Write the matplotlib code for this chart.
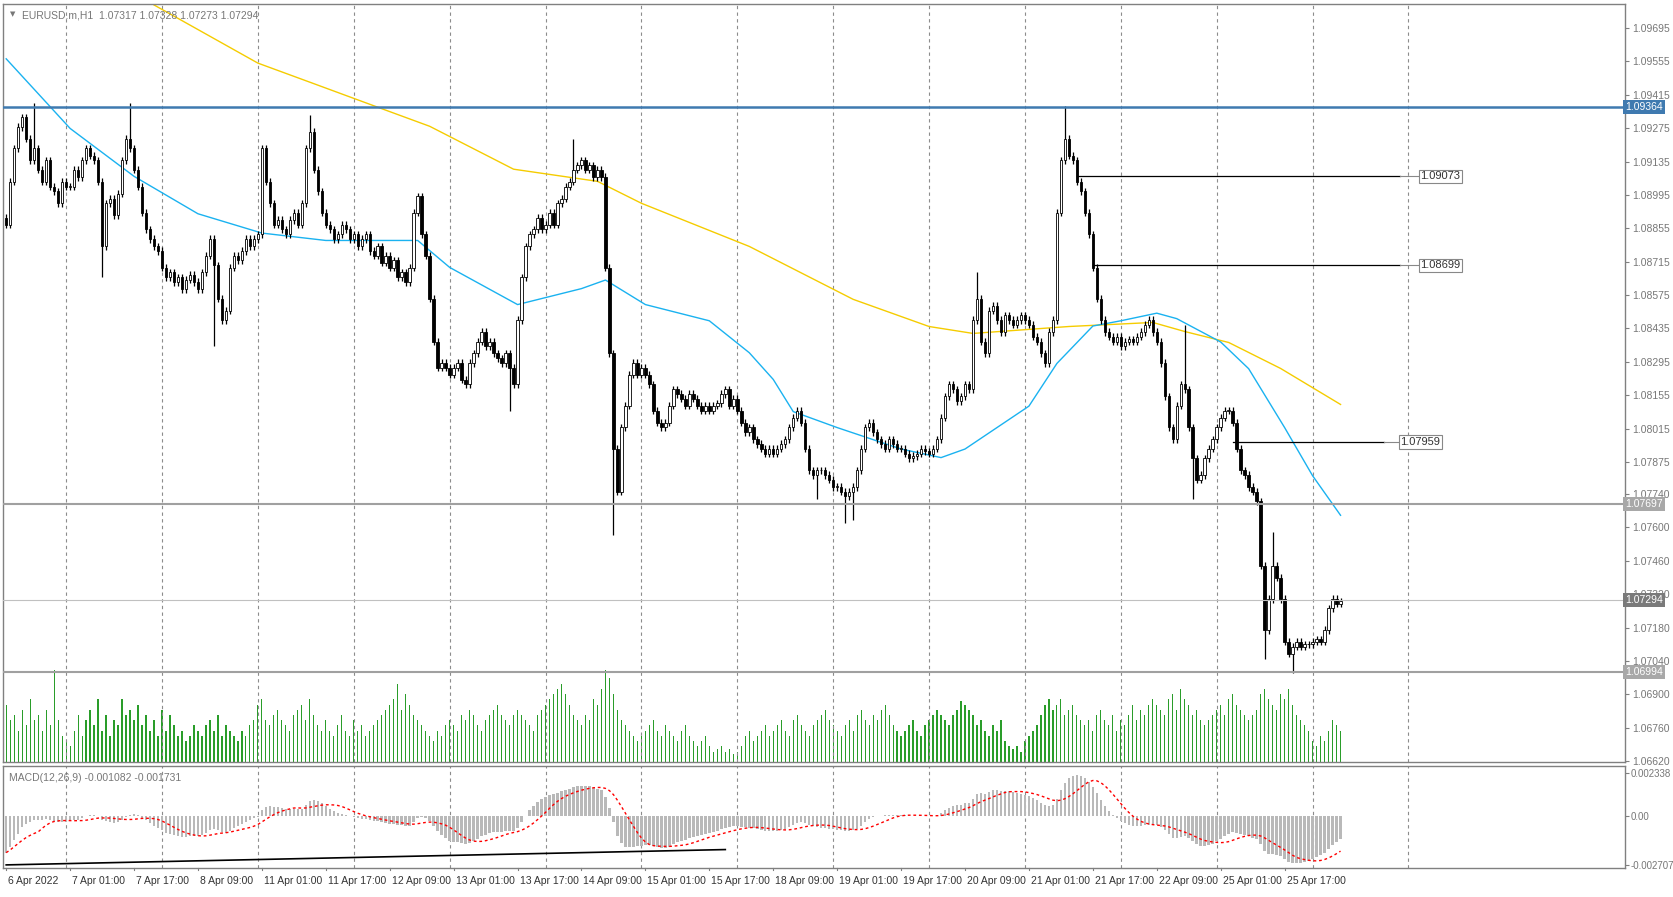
import numpy as np
import pandas as pd
import matplotlib
matplotlib.use("Agg")
import matplotlib.pyplot as plt

# ---------------- data (closes in pips above 1.07000) ----------------
closes_pips = (
    [187,205,219,228,232,223,214,219,210,205,214,203,201,196,205,203] +
    [203,210,207,214,219,216,214,205,178,196,198,191,200,214,223,219] +
    [210,203,192,185,181,178,176,169,165,167,163,165,160,164,166,163] +
    [160,167,174,181,170,156,147,151,169,174,172,176,181,178,181,183] +
    [219,205,196,187,189,185,183,189,192,187,196,219,226,210,201,192] +
    [187,185,181,183,187,185,181,183,178,181,183,176,174,178,171,174] +
    [169,172,165,167,163,169,192,199,183,174,156,138,127,129,127,124] +
    [127,129,122,120,129,133,138,142,136,138,133,131,129,133,127,120] +
    [147,165,178,183,185,190,185,187,192,187,196,198,203,205,210,212] +
    [214,210,212,207,210,207,169,133,93,75,102,111,124,129,124,127] +
    [124,120,109,104,102,104,111,118,116,114,111,116,114,111,109,111] +
    [109,111,112,116,118,111,114,109,104,100,102,97,95,93,91,93] +
    [91,93,95,97,102,106,109,104,93,84,82,84,84,82,80,77] +
    [77,75,73,75,77,84,93,102,104,100,97,95,93,97,95,93] +
    [93,91,89,90,91,93,92,91,93,97,106,115,120,118,113,115] +
    [120,118,147,156,138,133,151,153,147,142,149,147,145,147,149,147] +
    [145,140,138,133,129,142,147,192,214,223,216,214,205,201,192,183] +
    [169,156,147,142,140,138,140,136,138,139,138,140,142,145,147,142] +
    [138,129,115,102,97,111,120,118,102,89,80,82,89,93,97,102] +
    [106,109,109,104,93,84,82,77,75,71,44,17,30,44,39,30] +
    [12,7,10,12,10,11,11,12,13,12,17,26,30,28,29]
)
first_open_pips = 190
spike_highs = {7: 238, 31: 238, 76: 233, 142: 223, 243: 167, 265: 237, 295: 145, 317: 58}
spike_lows = {24: 165, 52: 136, 126: 109, 152: 57, 203: 72, 210: 62, 212: 63, 297: 72, 315: 5, 322: -1}

volumes = (
    [55,40,45,30,50,35,60,40,45,30,50,35,88,40,25,20] +
    [15,30,45,25,40,50,35,60,30,45,25,40,35,60,45,50] +
    [40,55,35,45,30,40,25,50,30,45,35,25,30,20,25,35] +
    [30,25,35,40,30,45,25,35,30,25,20,30,25,35,40,55] +
    [60,40,35,45,50,40,35,30,45,50,55,40,60,45,35,30] +
    [40,30,25,35,45,30,25,40,30,35,25,30,35,40,45,50] +
    [55,60,75,50,65,55,45,40,35,30,25,20,30,25,35,40] +
    [35,30,45,40,50,45,35,30,40,45,50,55,45,40,35,45] +
    [50,45,40,35,30,45,50,55,60,65,70,75,65,55,45,40] +
    [35,45,40,60,55,70,88,80,65,50,40,35,30,25,20,25] +
    [30,35,40,30,25,35,30,25,20,30,35,25,20,15,20,25] +
    [15,10,12,15,10,12,8,10,15,25,30,20,25,30,35,25] +
    [30,35,40,30,25,40,45,35,30,25,35,40,45,50,40,35] +
    [30,25,35,40,30,45,50,40,35,45,40,50,55,45,35,30] +
    [25,30,35,40,30,25,35,40,45,50,45,40,35,45,50,58] +
    [55,50,45,35,40,30,25,35,30,40,20,15,12,15,10,20] +
    [25,30,35,45,55,60,50,55,60,45,50,55,45,40,35,40] +
    [30,45,50,40,35,45,30,40,35,45,55,40,50,45,55,60] +
    [55,50,45,60,65,50,70,60,55,45,50,40,35,40,45,50] +
    [55,45,60,65,55,50,45,40,45,50,65,70,60,55,50,65] +
    [60,70,55,45,40,35,30,20,15,25,20,30,40,35,30]
)

ma_fast_idx = [0,16,32,48,64,80,103,111,128,144,150,160,176,186,192,197,208,224,234,240,256,263,272,279,288,293,304,311,320,327,334]
ma_fast_val = [1.09566,1.09274,1.09073,1.08916,1.08835,1.08804,1.08804,1.08691,1.08535,1.08602,1.08638,1.08535,
               1.08467,1.08333,1.08221,1.08086,1.08019,1.07929,1.07893,1.07929,1.08109,1.08288,1.08445,1.08467,
               1.08499,1.08476,1.08378,1.08266,1.08019,1.07817,1.07651]
ma_slow_idx = [37,63,76,93,106,127,148,159,186,212,231,242,266,287,295,306,319,334]
ma_slow_val = [1.09792,1.09548,1.09468,1.09363,1.09283,1.09103,1.09052,1.08960,1.08779,1.08557,1.08443,1.08414,
               1.08443,1.08460,1.08422,1.08376,1.08267,1.08116]

tick_idx = list(range(0, 321, 16))
tick_labels = ["6 Apr 2022","7 Apr 01:00","7 Apr 17:00","8 Apr 09:00","11 Apr 01:00","11 Apr 17:00",
               "12 Apr 09:00","13 Apr 01:00","13 Apr 17:00","14 Apr 09:00","15 Apr 01:00","15 Apr 17:00",
               "18 Apr 09:00","19 Apr 01:00","19 Apr 17:00","20 Apr 09:00","21 Apr 01:00","21 Apr 17:00",
               "22 Apr 09:00","25 Apr 01:00","25 Apr 17:00"]
day_grid_idx = list(range(15, 352, 24))

price_levels = [1.09695,1.09555,1.09415,1.09275,1.09135,1.08995,1.08855,1.08715,1.08575,1.08435,1.08295,
                1.08155,1.08015,1.07875,1.07740,1.07600,1.07460,1.07320,1.07180,1.07040,1.06900,1.06760,1.06620]
hline_blue = 1.09364
hline_gray = [1.07697, 1.06994]
bid = 1.07294
trend_levels = [(1.09073, 268, 349, 354), (1.08699, 272, 349, 354), (1.07959, 307, 345, 349)]
macd_init = (1.0886, 1.0908)   # warm EMA12, EMA26 at first bar
macd_trend = [(0, -0.00270), (180, -0.00186)]

# ---------------- derived ----------------
c = 1.07 + np.array(closes_pips) / 10000.0
n = len(c)
o = np.empty(n); o[0] = 1.07 + first_open_pips / 10000.0; o[1:] = c[:-1]
h = np.maximum(o, c) + 0.00015
l = np.minimum(o, c) - 0.00015
for k, v in spike_highs.items(): h[k] = 1.07 + v / 10000.0
for k, v in spike_lows.items(): l[k] = 1.07 + v / 10000.0
x = np.arange(n)

e12 = np.empty(n); e26 = np.empty(n)
a12, a26 = 2 / 13, 2 / 27
p12, p26 = macd_init
for i in range(n):
    p12 = p12 + a12 * (c[i] - p12); p26 = p26 + a26 * (c[i] - p26)
    e12[i] = p12; e26[i] = p26
macd = e12 - e26
sig = pd.Series(macd).rolling(9, min_periods=1).mean().values

# ---------------- figure ----------------
plt.rcParams['font.family'] = ['Liberation Sans', 'DejaVu Sans']
W, H = 1673, 897
fig = plt.figure(figsize=(W / 100, H / 100), dpi=100)
L, R = 3 / W, 1625 / W
ax = fig.add_axes([L, 1 - 762 / H, R - L, 758 / H])
axm = fig.add_axes([L, 1 - 868 / H, R - L, 102 / H])
XMIN, XMAX = -0.8, 405.2

# volume (drawn first, beneath)
axv = ax.twinx()
axv.set_ylim(0, max(volumes) * 758 / 92)
axv.set_xlim(XMIN, XMAX)
axv.bar(x, volumes, width=0.3, color='#2a9d2a', zorder=1)
axv.axis('off')
ax.set_zorder(axv.get_zorder() + 1); ax.patch.set_visible(False)

gray = '#808080'
for a in (ax, axm):
    a.set_xlim(XMIN, XMAX)
    for s in a.spines.values():
        s.set_color(gray); s.set_linewidth(1)
    a.set_xticks([])
    a.yaxis.tick_right()
    a.tick_params(axis='y', which='both', left=False, right=True, labelleft=False, labelright=True,
                  labelsize=7.5, labelcolor='#777777', color=gray, length=3, pad=2)
    for g in day_grid_idx:
        a.axvline(g, color='#8c8c8c', lw=0.8, ls=(0, (3, 3)), zorder=0)

ymin, ymax = 1.06616, 1.09796
ax.set_ylim(ymin, ymax)
ax.set_yticks(price_levels)
ax.set_yticklabels([f"{v:.5f}" for v in price_levels])

# MAs
ax.plot(ma_slow_idx, ma_slow_val, color='#f5cc00', lw=1.0, zorder=2)
ax.plot(ma_fast_idx, ma_fast_val, color='#1ab2f0', lw=1.0, zorder=2)

# candles
ax.vlines(x, l, h, color='black', lw=0.9, zorder=3)
up = c >= o
bot = np.minimum(o, c); ht = np.maximum(np.abs(c - o), 0.00002)
ax.bar(x[up], ht[up], bottom=bot[up], width=0.62, color='white', edgecolor='black', lw=0.6, zorder=4)
ax.bar(x[~up], ht[~up], bottom=bot[~up], width=0.62, color='black', edgecolor='black', lw=0.6, zorder=4)

# horizontal lines
ax.axhline(hline_blue, color='#3f7ab0', lw=1.8, zorder=5)
for v in hline_gray:
    ax.axhline(v, color='#a0a0a0', lw=1.5, zorder=5)
ax.axhline(bid, color='#c0c0c0', lw=0.8, zorder=5)

# trend / label lines
for v, i0, i1, lab in trend_levels:
    ax.plot([i0, i1], [v, v], color='black', lw=0.9, zorder=5)
    ax.plot([i1, lab], [v, v], color='#888888', lw=0.8, zorder=5)
    ax.text(lab, v, f"{v:.5f}", fontsize=8, color='#333333', va='center', ha='left', zorder=6,
            bbox=dict(boxstyle='square,pad=0.15', fc='white', ec='#888888', lw=0.8))

# price boxes on axis
def pbox(v, fc):
    ax.text(1.0, v, f"{v:.5f}", transform=ax.get_yaxis_transform(), fontsize=7.5, color='white',
            ha='left', va='center', zorder=10, clip_on=False,
            bbox=dict(boxstyle='square,pad=0.2', fc=fc, ec='none'))
pbox(hline_blue, '#3f7ab0')
pbox(hline_gray[0], '#a8a8a8')
pbox(hline_gray[1], '#a8a8a8')
pbox(bid, '#7a7a7a')

ax.text(0.012, 0.992, "EURUSD.m,H1  1.07317 1.07328 1.07273 1.07294", transform=ax.transAxes,
        fontsize=7.5, color='#777777', va='top', ha='left')
ax.text(0.004, 0.991, "▼", transform=ax.transAxes, fontsize=5, color='#777777', va='top', ha='left',
        family=['DejaVu Sans'])

# MACD panel
axm.set_ylim(-0.00287, 0.00272)
axm.set_yticks([0.002338, 0.0, -0.002707])
axm.set_yticklabels(["0.002338", "0.00", "-0.002707"])
axm.tick_params(axis='y', labelsize=7, pad=1)
axm.bar(x, macd, width=0.62, color='#b9b9b9', zorder=2)
axm.plot(x, sig, color='red', lw=1.0, ls=(0, (2, 2)), zorder=3)
axm.plot([p[0] for p in macd_trend], [p[1] for p in macd_trend], color='black', lw=1.2, zorder=4)
axm.text(0.004, 0.93, "MACD(12,26,9) -0.001082 -0.001731", transform=axm.transAxes,
         fontsize=7.5, color='#777777', va='top', ha='left')

# date labels
for i, t in zip(tick_idx, tick_labels):
    axm.plot([i, i], [-0.00287, -0.00287 - 0.00012], color=gray, lw=0.8, clip_on=False)
    axm.text(i + 0.5, -0.00287 - 0.00045, t, fontsize=7.5, color='#333333', ha='left', va='top', clip_on=False)

fig.savefig("out.png", dpi=100, facecolor='white')
